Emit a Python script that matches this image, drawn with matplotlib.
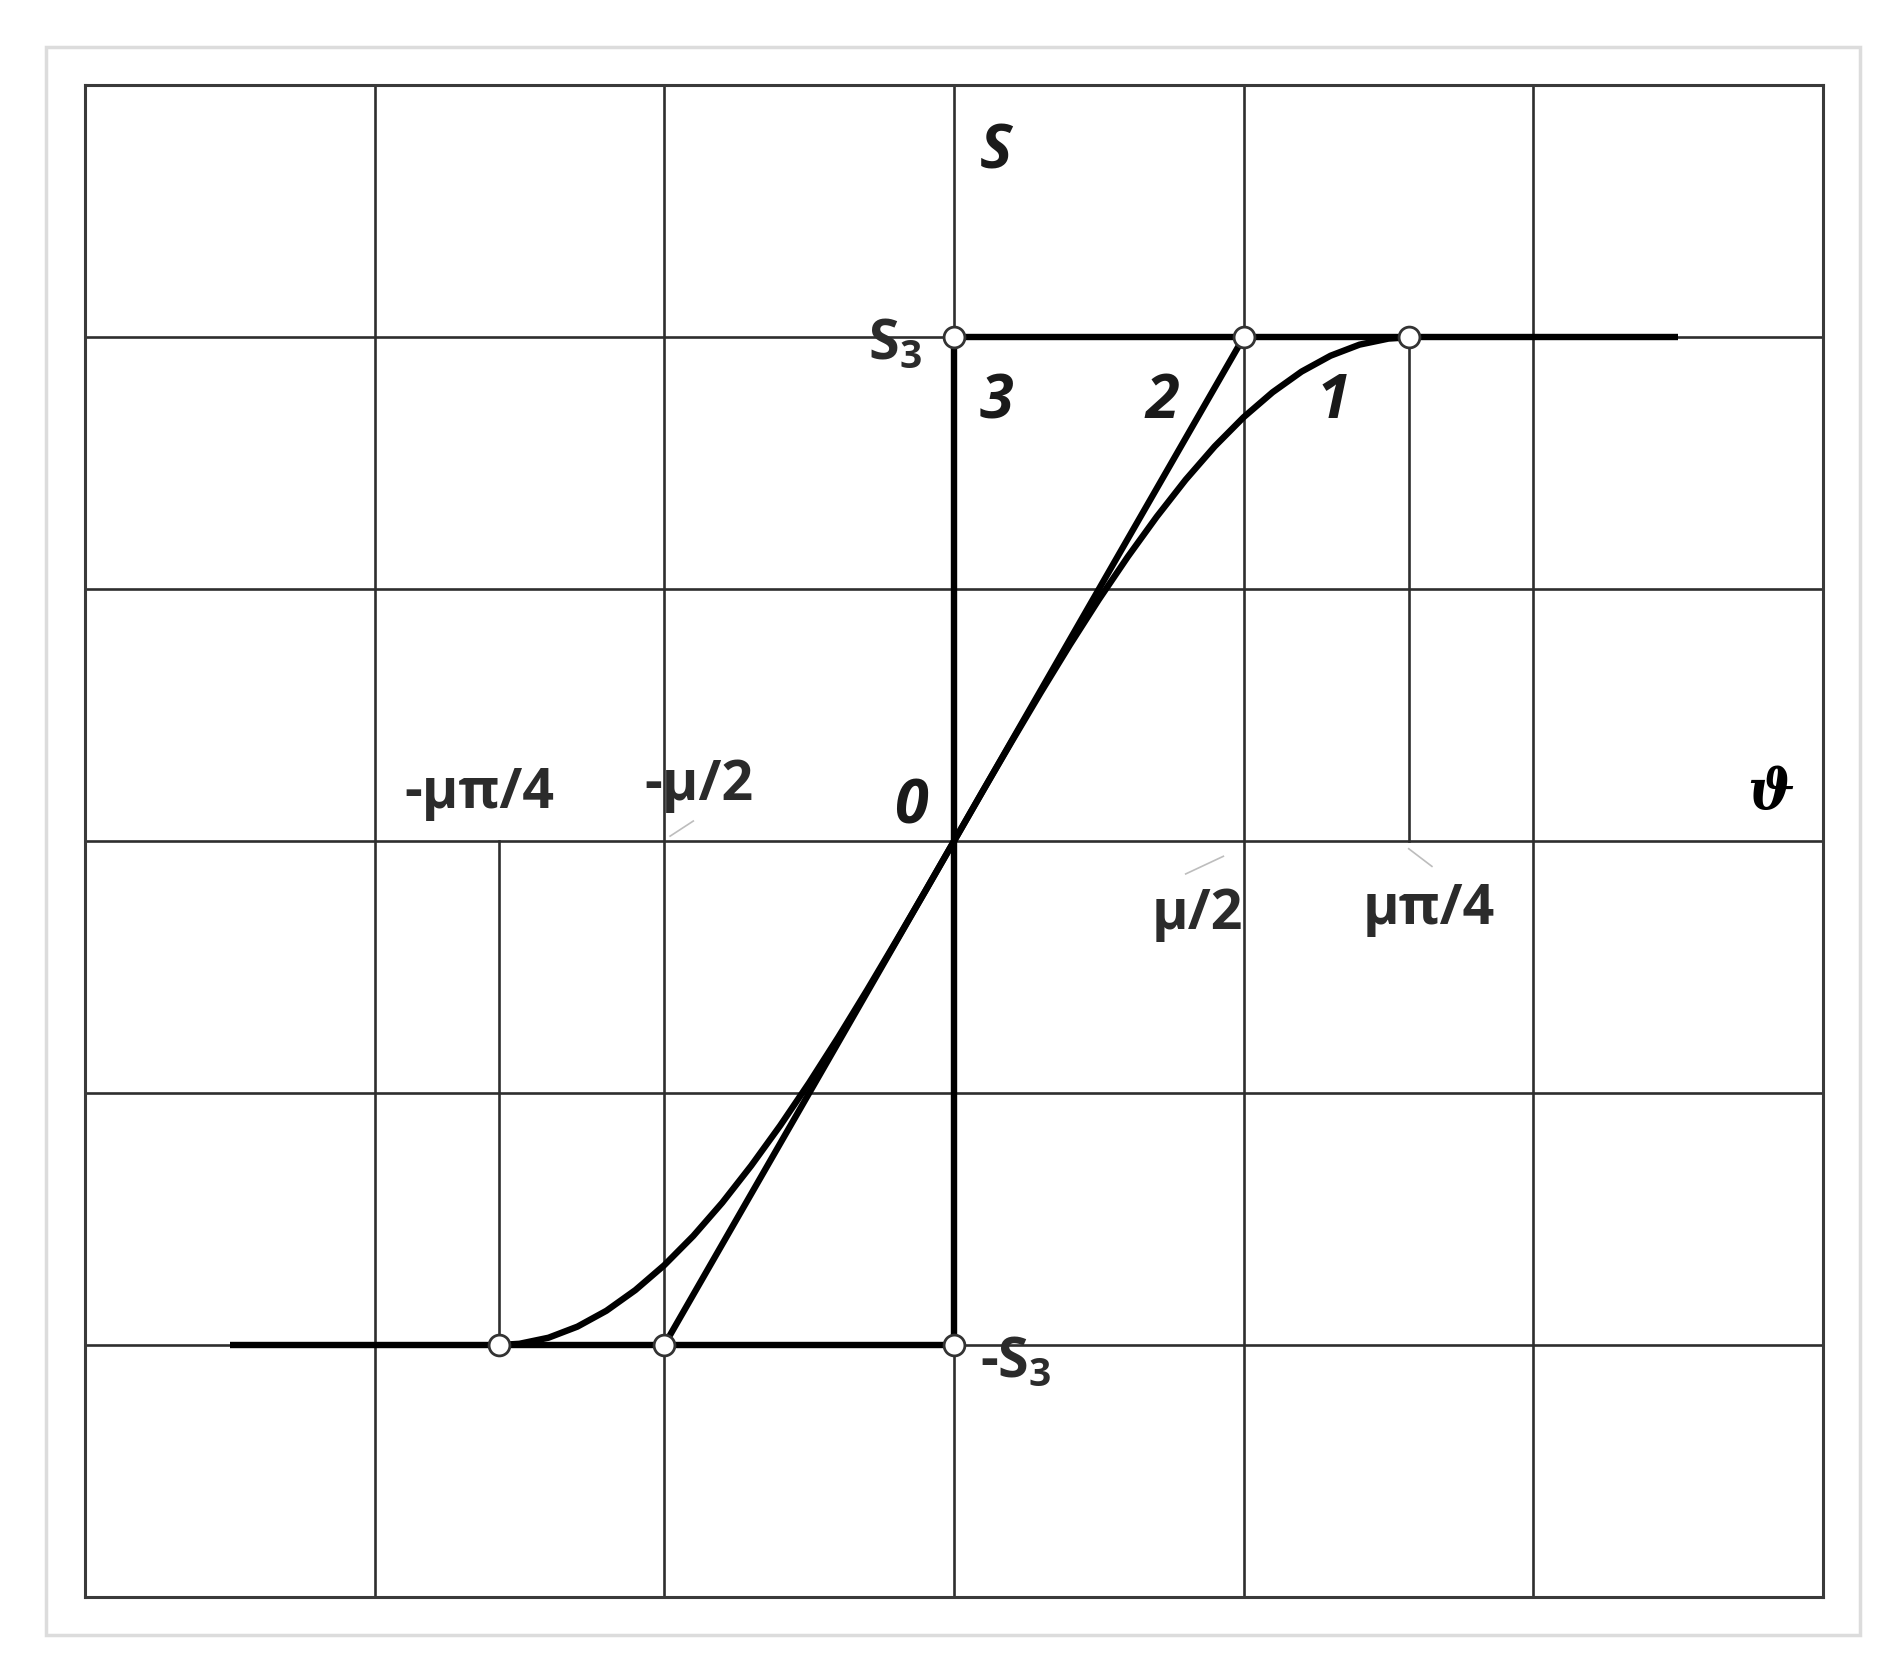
import matplotlib
matplotlib.use("Agg")
import matplotlib.pyplot as plt
from matplotlib.patches import Rectangle

plt.rcParams["mathtext.fontset"] = "custom"
plt.rcParams["mathtext.rm"] = "Open Sans"
plt.rcParams["mathtext.bf"] = "Open Sans:bold"

# curve 1: smooth characteristic
curve1_x = [-1.571, -1.5, -1.4, -1.3, -1.2, -1.1, -1.0, -0.9, -0.8, -0.7,
            -0.6, -0.5, -0.4, -0.3, -0.2, -0.1, 0.0, 0.1, 0.2, 0.3, 0.4, 0.5,
            0.6, 0.7, 0.8, 0.9, 1.0, 1.1, 1.2, 1.3, 1.4, 1.5, 1.571]
curve1_y = [-2.0, -1.995, -1.971, -1.927, -1.864, -1.782, -1.683, -1.567,
            -1.435, -1.288, -1.129, -0.959, -0.779, -0.591, -0.397, -0.200,
            0.0, 0.200, 0.397, 0.591, 0.779, 0.959, 1.129, 1.288, 1.435, 1.567,
            1.683, 1.782, 1.864, 1.927, 1.971, 1.995, 2.0]
# curve 2: linear ramp
curve2_x = [-1.0, 1.0]
curve2_y = [-2.0, 2.0]
# curve 3: relay (vertical jump at 0)
curve3_x = [0.0, 0.0]
curve3_y = [-2.0, 2.0]
# saturation levels
top_x = [0.0, 2.5]
top_y = [2.0, 2.0]
bottom_x = [-2.5, 0.0]
bottom_y = [-2.0, -2.0]
# open points
pts_x = [0.0, 1.0, 1.57, -1.57, -1.0, 0.0]
pts_y = [2.0, 2.0, 2.0, -2.0, -2.0, -2.0]
# drop lines at the breakpoints
drops = [(1.57, 0.0, 2.0), (-1.57, -2.0, 0.0)]

fig = plt.figure(figsize=(18.93, 16.75), dpi=100)
fig.patches.append(Rectangle((0.0243, 0.0239), 0.9583, 0.9481,
                             transform=fig.transFigure, fill=False,
                             edgecolor="#dcdcdc", lw=2.5))
ax = fig.add_axes([0.0449, 0.0466, 0.9181, 0.9024])
ax.set_xlim(-3, 3)
ax.set_ylim(-3, 3)
ax.set_xticks(range(-3, 4))
ax.set_yticks(range(-3, 4))
ax.tick_params(length=0, labelbottom=False, labelleft=False)
ax.grid(True, color="#2e2e2e", lw=1.9)
for sp in ax.spines.values():
    sp.set_color("#3a3a3a")
    sp.set_linewidth(2.2)

for x, y0, y1 in drops:
    ax.plot([x, x], [y0, y1], color="#2e2e2e", lw=1.9)

black = dict(color="black", lw=4.6, solid_capstyle="butt",
             solid_joinstyle="round")
ax.plot(top_x, top_y, **black)
ax.plot(bottom_x, bottom_y, **black)
ax.plot(curve3_x, curve3_y, **black)
ax.plot(curve2_x, curve2_y, **black)
ax.plot(curve1_x, curve1_y, **black)
ax.plot(pts_x, pts_y, "o", ms=15, mfc="white", mec="#333333", mew=2, zorder=5)

# faint leader strokes next to the tick names
for (x0, y0), (x1, y1) in [((-0.98, 0.02), (-0.9, 0.08)),
                           ((0.8, -0.13), (0.93, -0.06)),
                           ((1.57, -0.03), (1.65, -0.1))]:
    ax.plot([x0, x1], [y0, y1], color="#bdbdbd", lw=1.2)

sans = dict(family="Open Sans", fontweight="bold", color="#2b2b2b", fontsize=40)
ax.text(-0.11, 1.97, r"S$_\mathbf{3}$", ha="right", va="center", **sans)
ax.text(0.09, -2.07, r"-S$_\mathbf{3}$", ha="left", va="center", **sans)
ax.text(-1.64, 0.19, "-μπ/4", ha="center", va="center", **sans)
ax.text(-0.88, 0.22, "-μ/2", ha="center", va="center", **sans)
ax.text(0.84, -0.29, "μ/2", ha="center", va="center", **sans)
ax.text(1.64, -0.27, "μπ/4", ha="center", va="center", **sans)

ital = dict(family="Open Sans", fontweight="bold", style="italic",
            color="#1a1a1a", fontsize=44)
ax.text(0.145, 2.73, "S", ha="center", va="center", **ital)
ax.text(-0.15, 0.13, "0", ha="center", va="center", **ital)
ax.text(0.145, 1.74, "3", ha="center", va="center", **ital)
ax.text(0.72, 1.74, "2", ha="center", va="center", **ital)
ax.text(1.31, 1.74, "1", ha="center", va="center", **ital)
ax.text(2.82, 0.19, "ϑ", ha="center", va="center", family="DejaVu Serif",
        style="italic", fontweight="bold", fontsize=40, color="black")

fig.savefig("out.png", dpi=100)
